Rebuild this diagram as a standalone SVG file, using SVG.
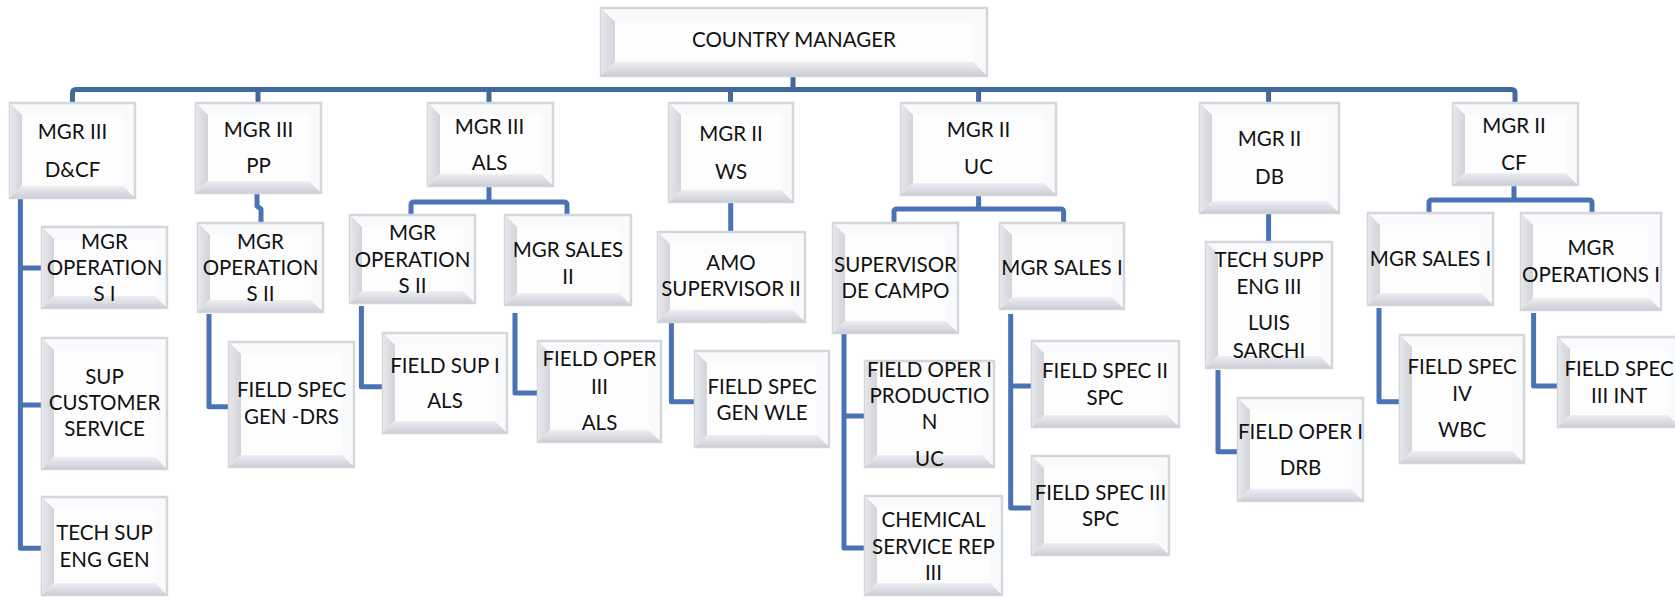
<svg xmlns="http://www.w3.org/2000/svg" width="1675" height="597" viewBox="0 0 1675 597">
<style>
  .frame { fill: #f9fafb; stroke: #d4d6db; stroke-width: 2.5; }
  .face { fill: #fdfdfe; }
  .bl { fill: url(#gradLeft); }
  .bb { fill: url(#gradBottom); }
  text { font-family: Lato, "Open Sans", "Liberation Sans", sans-serif; font-size: 20.5px; fill: #111; text-anchor: middle; }
  #connectors path { fill: none; stroke: #4a73b6; stroke-width: 5; stroke-linejoin: round; }
  #connectors path.trunk { stroke: #41699c; }
</style>
<defs>
  <linearGradient id="gradLeft" x1="0" y1="0" x2="1" y2="0">
    <stop offset="0" stop-color="#e6e7eb"/>
    <stop offset="1" stop-color="#d3d4da"/>
  </linearGradient>
  <linearGradient id="gradBottom" x1="0" y1="0" x2="0" y2="1">
    <stop offset="0" stop-color="#eeeff3"/>
    <stop offset="1" stop-color="#cdced5"/>
  </linearGradient>
</defs>
<rect width="1675" height="597" fill="#ffffff"/>

<g id="connectors">
  <path class="trunk" d="M72.5,103 V93 Q72.5,89.5 76,89.5 H1511.5 Q1515,89.5 1515,93 V103"/>
  <path class="trunk" d="M793,76 V89.5"/>
  <path class="trunk" d="M258,89.5 V103 M489,89.5 V103 M730.5,89.5 V103 M978.6,89.5 V103 M1268.6,89.5 V103"/>
  <path d="M489,186 V202 M411,215 V205 Q411,202 414,202 H564 Q567,202 567,205 V215"/>
  <path d="M978.6,195 V209 M894,223 V212 Q894,209 897,209 H1060.6 Q1063.6,209 1063.6,212 V223"/>
  <path d="M1514,185 V200 M1429,213 V203 Q1429,200 1432,200 H1589 Q1592,200 1592,203 V213"/>
  <path d="M257,193 V206 L261,209 V223"/>
  <path d="M730.7,202 V232"/>
  <path d="M1268.6,213 V242"/>
  <path d="M20.4,199 V548.3 H42 M20.4,268 H42 M20.4,405 H42"/>
  <path d="M209,314 V406.7 H229"/>
  <path d="M361.4,306 V386.7 H383"/>
  <path d="M515,313 V393 H538"/>
  <path d="M671.4,323 V401.7 H695"/>
  <path d="M844,334 V548 H865 M844,416 H865"/>
  <path d="M1010.7,314 V508 H1032 M1010.7,386 H1032"/>
  <path d="M1218,370 V451.7 H1238"/>
  <path d="M1379,308 V401.7 H1400"/>
  <path d="M1533.6,313 V386 H1558"/>
</g>

<g id="n-country-manager">
  <rect class="frame" x="601" y="8" width="386" height="68"/>
  <rect class="face" x="615" y="22" width="358" height="40"/>
  <polygon class="bl" points="601,8 615,22 615,62 601,76"/>
  <polygon class="bb" points="601,76 615,62 973,62 987,76"/>
  <text x="794" y="47">COUNTRY MANAGER</text>
</g>

<g id="n-mgr-dcf">
  <rect class="frame" x="10" y="103" width="125" height="95"/>
  <rect class="face" x="22" y="115" width="101" height="71"/>
  <polygon class="bl" points="10,103 22,115 22,186 10,198"/>
  <polygon class="bb" points="10,198 22,186 123,186 135,198"/>
  <text x="72.5" y="139">MGR III</text>
  <text x="72.5" y="176.5">D&amp;CF</text>
</g>

<g id="n-mgr-pp">
  <rect class="frame" x="196" y="103" width="125" height="90"/>
  <rect class="face" x="208" y="115" width="101" height="66"/>
  <polygon class="bl" points="196,103 208,115 208,181 196,193"/>
  <polygon class="bb" points="196,193 208,181 309,181 321,193"/>
  <text x="258.5" y="137">MGR III</text>
  <text x="258.5" y="173">PP</text>
</g>

<g id="n-mgr-als">
  <rect class="frame" x="428" y="103" width="125" height="83"/>
  <rect class="face" x="440" y="115" width="101" height="59"/>
  <polygon class="bl" points="428,103 440,115 440,174 428,186"/>
  <polygon class="bb" points="428,186 440,174 541,174 553,186"/>
  <text x="489.5" y="133.7">MGR III</text>
  <text x="489.5" y="170.3">ALS</text>
</g>

<g id="n-mgr-ws">
  <rect class="frame" x="669" y="103" width="124" height="99"/>
  <rect class="face" x="681" y="115" width="100" height="75"/>
  <polygon class="bl" points="669,103 681,115 681,190 669,202"/>
  <polygon class="bb" points="669,202 681,190 781,190 793,202"/>
  <text x="731" y="141.3">MGR II</text>
  <text x="731" y="178.7">WS</text>
</g>

<g id="n-mgr-uc">
  <rect class="frame" x="901" y="103" width="155" height="92"/>
  <rect class="face" x="913" y="115" width="131" height="68"/>
  <polygon class="bl" points="901,103 913,115 913,183 901,195"/>
  <polygon class="bb" points="901,195 913,183 1044,183 1056,195"/>
  <text x="978.5" y="137">MGR II</text>
  <text x="978.5" y="174.3">UC</text>
</g>

<g id="n-mgr-db">
  <rect class="frame" x="1200" y="103" width="139" height="110"/>
  <rect class="face" x="1212" y="115" width="115" height="86"/>
  <polygon class="bl" points="1200,103 1212,115 1212,201 1200,213"/>
  <polygon class="bb" points="1200,213 1212,201 1327,201 1339,213"/>
  <text x="1269.5" y="146.3">MGR II</text>
  <text x="1269.5" y="183.7">DB</text>
</g>

<g id="n-mgr-cf">
  <rect class="frame" x="1453" y="103" width="125" height="82"/>
  <rect class="face" x="1465" y="115" width="101" height="58"/>
  <polygon class="bl" points="1453,103 1465,115 1465,173 1453,185"/>
  <polygon class="bb" points="1453,185 1465,173 1566,173 1578,185"/>
  <text x="1514" y="133">MGR II</text>
  <text x="1514" y="170.3">CF</text>
</g>

<g id="n-ops-dcf">
  <rect class="frame" x="42" y="227" width="125" height="81"/>
  <rect class="face" x="54" y="239" width="101" height="57"/>
  <polygon class="bl" points="42,227 54,239 54,296 42,308"/>
  <polygon class="bb" points="42,308 54,296 155,296 167,308"/>
  <text x="104.5" y="248.7">MGR</text>
  <text x="104.5" y="274.7">OPERATION</text>
  <text x="104.5" y="301">S I</text>
</g>

<g id="n-ops-pp">
  <rect class="frame" x="198" y="223" width="125" height="89"/>
  <rect class="face" x="210" y="235" width="101" height="65"/>
  <polygon class="bl" points="198,223 210,235 210,300 198,312"/>
  <polygon class="bb" points="198,312 210,300 311,300 323,312"/>
  <text x="260.5" y="248.7">MGR</text>
  <text x="260.5" y="274.7">OPERATION</text>
  <text x="260.5" y="301">S II</text>
</g>

<g id="n-ops-als">
  <rect class="frame" x="350" y="215" width="125" height="88"/>
  <rect class="face" x="362" y="227" width="101" height="64"/>
  <polygon class="bl" points="350,215 362,227 362,291 350,303"/>
  <polygon class="bb" points="350,303 362,291 463,291 475,303"/>
  <text x="412.5" y="240.3">MGR</text>
  <text x="412.5" y="267">OPERATION</text>
  <text x="412.5" y="293">S II</text>
</g>

<g id="n-sales-als">
  <rect class="frame" x="505" y="215" width="126" height="90"/>
  <rect class="face" x="517" y="227" width="102" height="66"/>
  <polygon class="bl" points="505,215 517,227 517,293 505,305"/>
  <polygon class="bb" points="505,305 517,293 619,293 631,305"/>
  <text x="568" y="257">MGR SALES</text>
  <text x="568" y="283.7">II</text>
</g>

<g id="n-amo">
  <rect class="frame" x="658" y="232" width="147" height="90"/>
  <rect class="face" x="670" y="244" width="123" height="66"/>
  <polygon class="bl" points="658,232 670,244 670,310 658,322"/>
  <polygon class="bb" points="658,322 670,310 793,310 805,322"/>
  <text x="731" y="270.3">AMO</text>
  <text x="731" y="296.3">SUPERVISOR II</text>
</g>

<g id="n-sup-campo">
  <rect class="frame" x="833" y="223" width="125" height="110"/>
  <rect class="face" x="845" y="235" width="101" height="86"/>
  <polygon class="bl" points="833,223 845,235 845,321 833,333"/>
  <polygon class="bb" points="833,333 845,321 946,321 958,333"/>
  <text x="895.5" y="272">SUPERVISOR</text>
  <text x="895.5" y="297.7">DE CAMPO</text>
</g>

<g id="n-sales-uc">
  <rect class="frame" x="1000" y="223" width="124" height="86"/>
  <rect class="face" x="1012" y="235" width="100" height="62"/>
  <polygon class="bl" points="1000,223 1012,235 1012,297 1000,309"/>
  <polygon class="bb" points="1000,309 1012,297 1112,297 1124,309"/>
  <text x="1062" y="274.7">MGR SALES I</text>
</g>

<g id="n-tech-db">
  <rect class="frame" x="1206" y="242" width="126" height="126"/>
  <rect class="face" x="1218" y="254" width="102" height="102"/>
  <polygon class="bl" points="1206,242 1218,254 1218,356 1206,368"/>
  <polygon class="bb" points="1206,368 1218,356 1320,356 1332,368"/>
  <text x="1269" y="267">TECH SUPP</text>
  <text x="1269" y="293.7">ENG III</text>
  <text x="1269" y="330.3">LUIS</text>
  <text x="1269" y="357.7">SARCHI</text>
</g>

<g id="n-sales-cf">
  <rect class="frame" x="1368" y="213" width="125" height="92"/>
  <rect class="face" x="1380" y="225" width="101" height="68"/>
  <polygon class="bl" points="1368,213 1380,225 1380,293 1368,305"/>
  <polygon class="bb" points="1368,305 1380,293 1481,293 1493,305"/>
  <text x="1430.5" y="266.3">MGR SALES I</text>
</g>

<g id="n-ops-cf">
  <rect class="frame" x="1521" y="213" width="140" height="97"/>
  <rect class="face" x="1533" y="225" width="116" height="73"/>
  <polygon class="bl" points="1521,213 1533,225 1533,298 1521,310"/>
  <polygon class="bb" points="1521,310 1533,298 1649,298 1661,310"/>
  <text x="1591" y="255.3">MGR</text>
  <text x="1591" y="282">OPERATIONS I</text>
</g>

<g id="n-sup-cs">
  <rect class="frame" x="42" y="338" width="125" height="131"/>
  <rect class="face" x="54" y="350" width="101" height="107"/>
  <polygon class="bl" points="42,338 54,350 54,457 42,469"/>
  <polygon class="bb" points="42,469 54,457 155,457 167,469"/>
  <text x="104.5" y="383.7">SUP</text>
  <text x="104.5" y="410.3">CUSTOMER</text>
  <text x="104.5" y="436.3">SERVICE</text>
</g>

<g id="n-tech-gen">
  <rect class="frame" x="42" y="497" width="125" height="98"/>
  <rect class="face" x="54" y="509" width="101" height="74"/>
  <polygon class="bl" points="42,497 54,509 54,583 42,595"/>
  <polygon class="bb" points="42,595 54,583 155,583 167,595"/>
  <text x="104.5" y="540.3">TECH SUP</text>
  <text x="104.5" y="567">ENG GEN</text>
</g>

<g id="n-fs-drs">
  <rect class="frame" x="229" y="342" width="125" height="125"/>
  <rect class="face" x="241" y="354" width="101" height="101"/>
  <polygon class="bl" points="229,342 241,354 241,455 229,467"/>
  <polygon class="bb" points="229,467 241,455 342,455 354,467"/>
  <text x="291.5" y="397">FIELD SPEC</text>
  <text x="291.5" y="423.7">GEN -DRS</text>
</g>

<g id="n-fsup-als">
  <rect class="frame" x="383" y="333" width="124" height="100"/>
  <rect class="face" x="395" y="345" width="100" height="76"/>
  <polygon class="bl" points="383,333 395,345 395,421 383,433"/>
  <polygon class="bb" points="383,433 395,421 495,421 507,433"/>
  <text x="445" y="372.7">FIELD SUP I</text>
  <text x="445" y="408">ALS</text>
</g>

<g id="n-fop-als">
  <rect class="frame" x="538" y="341" width="123" height="101"/>
  <rect class="face" x="550" y="353" width="99" height="77"/>
  <polygon class="bl" points="538,341 550,353 550,430 538,442"/>
  <polygon class="bb" points="538,442 550,430 649,430 661,442"/>
  <text x="599.5" y="366.3">FIELD OPER</text>
  <text x="599.5" y="393.7">III</text>
  <text x="599.5" y="429.7">ALS</text>
</g>

<g id="n-fs-wle">
  <rect class="frame" x="695" y="351" width="134" height="96"/>
  <rect class="face" x="707" y="363" width="110" height="72"/>
  <polygon class="bl" points="695,351 707,363 707,435 695,447"/>
  <polygon class="bb" points="695,447 707,435 817,435 829,447"/>
  <text x="762" y="393.7">FIELD SPEC</text>
  <text x="762" y="419.7">GEN WLE</text>
</g>

<g id="n-fop-uc">
  <rect class="frame" x="865" y="361" width="129" height="106"/>
  <rect class="face" x="877" y="373" width="105" height="82"/>
  <polygon class="bl" points="865,361 877,373 877,455 865,467"/>
  <polygon class="bb" points="865,467 877,455 982,455 994,467"/>
  <text x="929.5" y="377">FIELD OPER I</text>
  <text x="929.5" y="403">PRODUCTIO</text>
  <text x="929.5" y="429.3">N</text>
  <text x="929.5" y="466">UC</text>
</g>

<g id="n-chem">
  <rect class="frame" x="865" y="496" width="137" height="99"/>
  <rect class="face" x="877" y="508" width="113" height="75"/>
  <polygon class="bl" points="865,496 877,508 877,583 865,595"/>
  <polygon class="bb" points="865,595 877,583 990,583 1002,595"/>
  <text x="933.5" y="527">CHEMICAL</text>
  <text x="933.5" y="554.3">SERVICE REP</text>
  <text x="933.5" y="580.3">III</text>
</g>

<g id="n-fs2-spc">
  <rect class="frame" x="1032" y="341" width="147" height="86"/>
  <rect class="face" x="1044" y="353" width="123" height="62"/>
  <polygon class="bl" points="1032,341 1044,353 1044,415 1032,427"/>
  <polygon class="bb" points="1032,427 1044,415 1167,415 1179,427"/>
  <text x="1105" y="378">FIELD SPEC II</text>
  <text x="1105" y="405.3">SPC</text>
</g>

<g id="n-fs3-spc">
  <rect class="frame" x="1032" y="456" width="137" height="99"/>
  <rect class="face" x="1044" y="468" width="113" height="75"/>
  <polygon class="bl" points="1032,456 1044,468 1044,543 1032,555"/>
  <polygon class="bb" points="1032,555 1044,543 1157,543 1169,555"/>
  <text x="1100.5" y="499.7">FIELD SPEC III</text>
  <text x="1100.5" y="526.3">SPC</text>
</g>

<g id="n-fop-drb">
  <rect class="frame" x="1238" y="398" width="125" height="103"/>
  <rect class="face" x="1250" y="410" width="101" height="79"/>
  <polygon class="bl" points="1238,398 1250,410 1250,489 1238,501"/>
  <polygon class="bb" points="1238,501 1250,489 1351,489 1363,501"/>
  <text x="1300.5" y="438.7">FIELD OPER I</text>
  <text x="1300.5" y="474.7">DRB</text>
</g>

<g id="n-fs4-wbc">
  <rect class="frame" x="1400" y="335" width="124" height="128"/>
  <rect class="face" x="1412" y="347" width="100" height="104"/>
  <polygon class="bl" points="1400,335 1412,347 1412,451 1400,463"/>
  <polygon class="bb" points="1400,463 1412,451 1512,451 1524,463"/>
  <text x="1462" y="374.3">FIELD SPEC</text>
  <text x="1462" y="401">IV</text>
  <text x="1462" y="437">WBC</text>
</g>

<g id="n-fs3-int">
  <rect class="frame" x="1558" y="337" width="122" height="90"/>
  <rect class="face" x="1570" y="349" width="98" height="66"/>
  <polygon class="bl" points="1558,337 1570,349 1570,415 1558,427"/>
  <polygon class="bb" points="1558,427 1570,415 1668,415 1680,427"/>
  <text x="1619" y="376.3">FIELD SPEC</text>
  <text x="1619" y="403">III INT</text>
</g>
</svg>
